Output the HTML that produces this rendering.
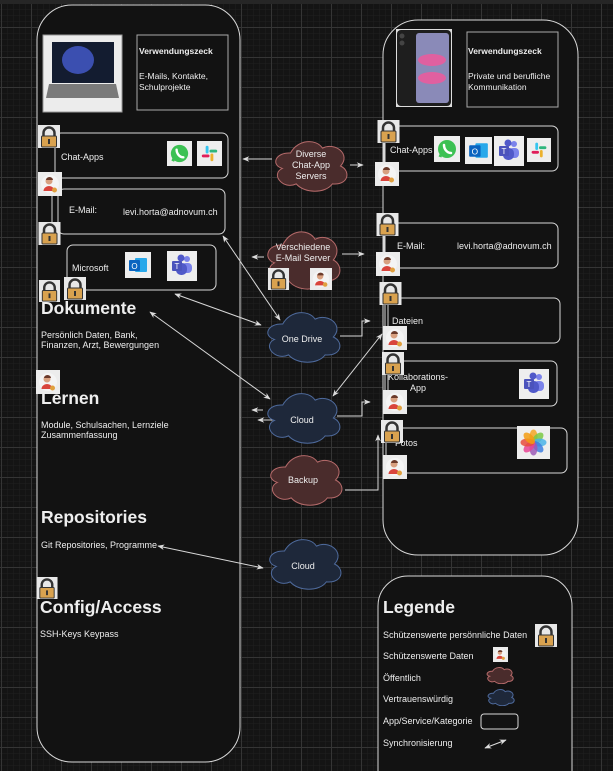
<!DOCTYPE html>
<html><head><meta charset="utf-8"><style>
html,body{margin:0;padding:0;background:#141414;}
svg{display:block;font-family:"Liberation Sans",sans-serif;}
</style></head><body>
<svg width="613" height="771" viewBox="0 0 613 771" xmlns="http://www.w3.org/2000/svg">
<defs>
<pattern id="mg" x="1" y="27" width="6" height="6" patternUnits="userSpaceOnUse"><path d="M0,0H6M0,0V6" stroke="#202020" stroke-width="1" fill="none"/></pattern>
<pattern id="Mg" x="1" y="27" width="30" height="30" patternUnits="userSpaceOnUse"><path d="M0,0.5H30M0.5,0V30" stroke="#353535" stroke-width="1" fill="none"/></pattern>
<symbol id="lock" viewBox="0 0 22 23"><rect width="22" height="23" fill="#e8e8e8"/><path d="M5.5,12V8a5.5,5.5 0 0 1 11,0v4" fill="none" stroke="#333" stroke-width="2.5"/><rect x="3.5" y="11" width="15" height="11" rx="1" fill="#d9a24f" stroke="#333" stroke-width="1"/><rect x="10" y="14" width="2" height="5" fill="#333"/></symbol>
<symbol id="pers" viewBox="0 0 24 24"><rect width="24" height="24" fill="#ececec"/><circle cx="12" cy="12" r="9" fill="#f4f4f4"/><circle cx="11" cy="9" r="3.5" fill="#d8a080"/><path d="M8,8a3.5,3 0 0 1 7,0z" fill="#6b3a2a"/><path d="M5.5,19a5.5,5 0 0 1 11,0z" fill="#d9443c"/><circle cx="16.5" cy="18" r="2.5" fill="#e0a040"/></symbol>
<symbol id="cloud" viewBox="0 0 100 64" preserveAspectRatio="none"><path d="M25,16 C6,15 1,31 15,35 C0,42 16,62 32,54 C42,66 68,66 76,54 C96,56 99,38 86,32 C99,18 80,2 64,10 C56,-2 34,-1 25,16 Z" vector-effect="non-scaling-stroke"/></symbol>
<marker id="ah" viewBox="0 0 10 10" refX="9" refY="5" markerWidth="7" markerHeight="7" orient="auto-start-reverse"><path d="M0,1L10,5L0,9L3,5z" fill="#ddd"/></marker>
<symbol id="wa" viewBox="0 0 26 26"><rect width="26" height="26" fill="#eee"/><circle cx="13" cy="13" r="9" fill="#3cc153"/><path d="M6,21l2-5" stroke="#3cc153" stroke-width="3"/><path d="M10,9c0,4 3,8 7,8" stroke="#fff" stroke-width="2.5" fill="none" stroke-linecap="round"/></symbol>
<symbol id="sl" viewBox="0 0 26 26"><rect width="26" height="26" fill="#eee"/><rect x="9" y="5" width="3" height="8" rx="1.5" fill="#36c5f0"/><rect x="13" y="9" width="8" height="3" rx="1.5" fill="#2eb67d"/><rect x="14" y="13" width="3" height="8" rx="1.5" fill="#ecb22e"/><rect x="5" y="14" width="8" height="3" rx="1.5" fill="#e01e5a"/></symbol>
<symbol id="ol" viewBox="0 0 26 26"><rect width="26" height="26" fill="#eee"/><rect x="10" y="6" width="12" height="14" rx="1" fill="#28a8ea"/><rect x="4" y="8" width="11" height="11" rx="1" fill="#0a64c0"/><text x="9.5" y="17" font-size="8" fill="#fff" text-anchor="middle" font-family="Liberation Sans">O</text></symbol>
<symbol id="tm" viewBox="0 0 30 30"><rect width="30" height="30" fill="#eee"/><circle cx="20" cy="8" r="3" fill="#7b83eb"/><rect x="15" y="12" width="10" height="10" rx="4" fill="#7b83eb"/><circle cx="14" cy="7" r="3.5" fill="#5059c9"/><rect x="9" y="12" width="11" height="12" rx="5" fill="#5059c9"/><rect x="5" y="10" width="10" height="10" rx="1" fill="#4b53bc"/><text x="10" y="18" font-size="8" fill="#fff" text-anchor="middle" font-family="Liberation Sans">T</text></symbol>
</defs>
<rect width="613" height="771" fill="#141414"/>
<rect width="613" height="771" fill="url(#mg)"/>
<rect width="613" height="771" fill="url(#Mg)"/>
<rect width="613" height="4" fill="#262626"/>

<rect x="37" y="5" width="203" height="757" rx="35" fill="#121212" stroke="#d8d8d8" stroke-width="1"/>
<rect x="383" y="20" width="195" height="535" rx="35" fill="#121212" stroke="#d8d8d8" stroke-width="1"/>
<rect x="378" y="576" width="194" height="230" rx="30" fill="#121212" stroke="#d8d8d8" stroke-width="1"/>

<g fill="#eee" font-size="9">
<rect x="43" y="35" width="79" height="77" fill="#ececec" stroke="#999"/>
<rect x="52" y="42" width="62" height="41" fill="#131c30"/>
<ellipse cx="78" cy="60" rx="16" ry="14" fill="#3b4fb0"/>
<path d="M49,84h67l3,14h-73z" fill="#7a7a7a"/>
<rect x="137" y="35" width="91" height="75" fill="none" stroke="#aaa"/>
<text x="139" y="54" font-weight="bold" font-size="8.5">Verwendungszeck</text>
<text x="139" y="79" font-size="8.5">E-Mails, Kontakte,</text>
<text x="139" y="90" font-size="8.5">Schulprojekte</text>

<g fill="none" stroke="#d8d8d8">
<rect x="55" y="133" width="173" height="45" rx="6"/>
<rect x="58" y="189" width="167" height="45" rx="6"/>
<rect x="67" y="245" width="149" height="45" rx="6"/>
<path d="M55,148V172M52,196V222"/>
</g>
<text x="61" y="160">Chat-Apps</text>
<use href="#wa" x="167" y="141" width="25" height="25"/>
<use href="#sl" x="197" y="141" width="25" height="25"/>
<text x="69" y="213">E-Mail:</text>
<text x="123" y="215">levi.horta@adnovum.ch</text>
<text x="72" y="271">Microsoft</text>
<use href="#ol" x="125" y="252" width="26" height="26"/>
<use href="#tm" x="167" y="251" width="30" height="30"/>
<use href="#lock" x="38" y="125" width="22" height="23"/>
<use href="#pers" x="38" y="172" width="24" height="24"/>
<use href="#lock" x="38" y="222" width="23" height="23"/>
<use href="#lock" x="38" y="280" width="23" height="22"/>
<use href="#lock" x="64" y="277" width="22" height="23"/>

<text x="41" y="314" font-size="17.5" font-weight="bold">Dokumente</text>
<text x="41" y="338">Persönlich Daten, Bank,</text>
<text x="41" y="348">Finanzen, Arzt, Bewergungen</text>
<use href="#pers" x="36" y="370" width="24" height="24"/>
<text x="41" y="404" font-size="17.5" font-weight="bold">Lernen</text>
<text x="41" y="428">Module, Schulsachen, Lernziele</text>
<text x="41" y="438">Zusammenfassung</text>
<text x="41" y="523" font-size="17.5" font-weight="bold">Repositories</text>
<text x="41" y="548">Git Repositories, Programme</text>
<use href="#lock" x="36" y="577" width="22" height="22"/>
<text x="40" y="613" font-size="17.5" font-weight="bold">Config/Access</text>
<text x="40" y="637">SSH-Keys Keypass</text>

<rect x="396" y="29" width="56" height="78" fill="#ddd"/>
<rect x="397" y="30" width="54" height="76" rx="4" fill="#1e1e1e"/>
<rect x="416" y="33" width="33" height="70" rx="3" fill="#8a8ab8"/>
<ellipse cx="432" cy="60" rx="14" ry="6" fill="#e060a0"/>
<ellipse cx="432" cy="78" rx="14" ry="6" fill="#e060a0"/>
<circle cx="402" cy="36" r="2.5" fill="#444"/><circle cx="402" cy="43" r="2.5" fill="#444"/>
<rect x="467" y="32" width="91" height="75" fill="none" stroke="#aaa"/>
<text x="468" y="54" font-weight="bold" font-size="8.5">Verwendungszeck</text>
<text x="468" y="79" font-size="8.5">Private und berufliche</text>
<text x="468" y="90" font-size="8.5">Kommunikation</text>

<g fill="none" stroke="#d8d8d8">
<rect x="385" y="126" width="173" height="45" rx="6"/>
<rect x="385" y="223" width="173" height="45" rx="6"/>
<rect x="385" y="298" width="175" height="45" rx="6"/>
<rect x="385" y="361" width="172" height="45" rx="6"/>
<rect x="383" y="428" width="184" height="45" rx="6"/>
<path d="M384,143V162M384,236V252M388,305V326M388,375V390M386,443V455"/>
</g>
<text x="390" y="153">Chat-Apps</text>
<use href="#wa" x="434" y="136" width="26" height="26"/>
<use href="#ol" x="465" y="137" width="27" height="27"/>
<use href="#tm" x="494" y="136" width="30" height="30"/>
<use href="#sl" x="527" y="138" width="24" height="24"/>
<text x="397" y="249">E-Mail:</text>
<text x="457" y="249">levi.horta@adnovum.ch</text>
<text x="392" y="324">Dateien</text>
<text x="418" y="380" text-anchor="middle">Kollaborations-</text>
<text x="418" y="391" text-anchor="middle">App</text>
<use href="#tm" x="519" y="369" width="30" height="30"/>
<text x="395" y="446">Fotos</text>
<g transform="translate(517,426)"><rect width="33" height="33" fill="#eee"/>
<g transform="translate(16.5,16.5)">
<ellipse rx="4" ry="7" cy="-6" fill="#f5a623" opacity=".85"/>
<ellipse rx="4" ry="7" cy="-6" fill="#7ac943" opacity=".85" transform="rotate(45)"/>
<ellipse rx="4" ry="7" cy="-6" fill="#4ab3e8" opacity=".85" transform="rotate(90)"/>
<ellipse rx="4" ry="7" cy="-6" fill="#3d7fe0" opacity=".85" transform="rotate(135)"/>
<ellipse rx="4" ry="7" cy="-6" fill="#9b59b6" opacity=".85" transform="rotate(180)"/>
<ellipse rx="4" ry="7" cy="-6" fill="#e84393" opacity=".85" transform="rotate(225)"/>
<ellipse rx="4" ry="7" cy="-6" fill="#e74c3c" opacity=".85" transform="rotate(270)"/>
<ellipse rx="4" ry="7" cy="-6" fill="#f39c12" opacity=".85" transform="rotate(315)"/>
</g></g>
<use href="#lock" x="377" y="120" width="23" height="23"/>
<use href="#pers" x="375" y="162" width="24" height="24"/>
<use href="#lock" x="376" y="213" width="23" height="23"/>
<use href="#pers" x="376" y="252" width="24" height="24"/>
<use href="#lock" x="379" y="282" width="23" height="23"/>
<use href="#pers" x="383" y="326" width="24" height="24"/>
<use href="#lock" x="382" y="352" width="22" height="23"/>
<use href="#pers" x="383" y="390" width="24" height="24"/>
<use href="#lock" x="381" y="420" width="22" height="23"/>
<use href="#pers" x="383" y="455" width="24" height="24"/>
</g>

<g stroke="#d8d8d8" stroke-width="1" fill="none">
<path d="M272,159H243" marker-end="url(#ah)"/>
<path d="M350,165H363" marker-end="url(#ah)"/>
<path d="M264,257H252" marker-end="url(#ah)"/>
<path d="M342,254H364" marker-end="url(#ah)"/>
<path d="M223,236L280,320" marker-start="url(#ah)" marker-end="url(#ah)"/>
<path d="M175,294L261,325" marker-start="url(#ah)" marker-end="url(#ah)"/>
<path d="M150,312L270,399" marker-start="url(#ah)" marker-end="url(#ah)"/>
<path d="M340,336H362V321H370" marker-end="url(#ah)"/>
<path d="M337,416H362V402H370" marker-end="url(#ah)"/>
<path d="M263,410H252" marker-end="url(#ah)"/>
<path d="M280,420H258" marker-end="url(#ah)"/>
<path d="M333,396L382,334" marker-start="url(#ah)" marker-end="url(#ah)"/>
<path d="M345,490H378V435" marker-end="url(#ah)"/>
<path d="M158,546L263,568" marker-start="url(#ah)" marker-end="url(#ah)"/>
</g>

<g fill="#4a2c2c" stroke="#b56a6a" stroke-width="1">
<use href="#cloud" x="270" y="140" width="82" height="52"/>
<use href="#cloud" x="262" y="230" width="83" height="60"/>
<use href="#cloud" x="265" y="454" width="82" height="52"/>
</g>
<g fill="#1e283a" stroke="#4e6a9c" stroke-width="1">
<use href="#cloud" x="262" y="311" width="83" height="52"/>
<use href="#cloud" x="262" y="392" width="83" height="52"/>
<use href="#cloud" x="264" y="538" width="82" height="52"/>
</g>
<g fill="#eee" font-size="9" text-anchor="middle">
<text x="311" y="157">Diverse</text>
<text x="311" y="168">Chat-App</text>
<text x="311" y="179">Servers</text>
<text x="303" y="250">Verschiedene</text>
<text x="303" y="261">E-Mail Server</text>
<text x="302" y="342">One Drive</text>
<text x="302" y="423">Cloud</text>
<text x="303" y="483">Backup</text>
<text x="303" y="569">Cloud</text>
</g>
<use href="#lock" x="267" y="268" width="23" height="22"/>
<use href="#pers" x="309" y="268" width="24" height="22"/>

<g fill="#eee" font-size="9">
<text x="383" y="613" font-size="17.5" font-weight="bold">Legende</text>
<text x="383" y="638">Schützenswerte persönnliche Daten</text>
<use href="#lock" x="535" y="624" width="22" height="23"/>
<text x="383" y="659">Schützenswerte Daten</text>
<use href="#pers" x="493" y="647" width="15" height="15"/>
<text x="383" y="681">Öffentlich</text>
<use href="#cloud" x="485" y="667" width="30" height="17" fill="#4a2c2c" stroke="#b56a6a"/>
<text x="383" y="702">Vertrauenswürdig</text>
<use href="#cloud" x="486" y="689" width="30" height="17" fill="#1e283a" stroke="#4e6a9c"/>
<text x="383" y="724">App/Service/Kategorie</text>
<rect x="481" y="714" width="37" height="15" rx="3" fill="none" stroke="#d8d8d8"/>
<text x="383" y="746">Synchronisierung</text>
<path d="M485,748L506,740" stroke="#ddd" fill="none" marker-start="url(#ah)" marker-end="url(#ah)"/>
</g>
</svg>
</body></html>
